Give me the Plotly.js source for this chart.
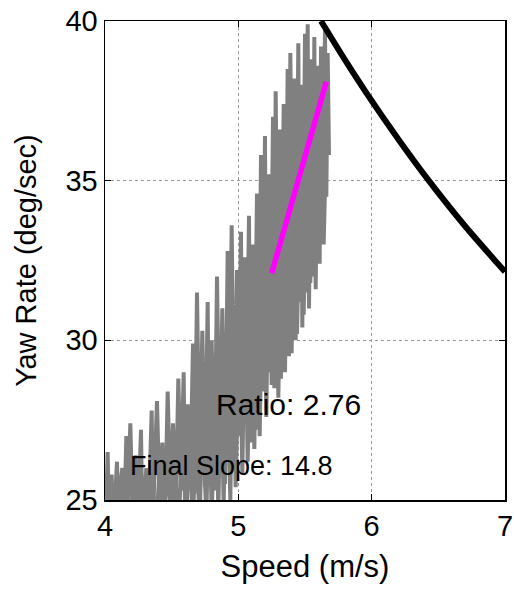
<!DOCTYPE html>
<html>
<head>
<meta charset="utf-8">
<script src="https://cdn.plot.ly/plotly-3.0.1.min.js"></script>
<style>html,body{margin:0;padding:0;background:#fff;}#chart{width:514px;height:590px;}</style>
</head>
<body>
<div id="chart"></div>
<script>
var speedData = [
4.00,4.02,4.03,4.05,4.06,4.09,4.10,4.12,4.14,4.16,4.17,4.19,4.21,4.23,4.25,4.27,4.28,4.31,4.33,4.35,
4.36,4.39,4.41,4.43,4.45,4.47,4.49,4.51,4.53,4.55,4.57,4.59,4.60,4.62,4.64,4.66,4.67,4.69,4.71,4.73,
4.75,4.77,4.78,4.80,4.82,4.84,4.86,4.88,4.90,4.92,4.93,4.95,4.97,4.99,5.00,5.02,5.03,5.05,5.06,5.08,
5.09,5.11,5.12,5.14,5.15,5.17,5.18,5.20,5.21,5.23,5.24,5.26,5.27,5.28,5.30,5.31,5.32,5.34,5.35,5.37,
5.38,5.39,5.41,5.42,5.43,5.45,5.46,5.47,5.48,5.50,5.51,5.52,5.53,5.55,5.56,5.57,5.58,5.60,5.61,5.62,
5.63,5.65,5.66,5.67,5.68,
5.66,5.64,5.62,5.59,5.57,5.54,5.52,5.49,5.47,5.44,5.42,5.40,5.37,5.35,5.33,5.30,5.28,5.25,5.23,5.21,
5.19,5.16,5.14,5.12,5.10,5.07,5.05,5.03,5.01,4.98,4.96,4.94,4.91,4.89,4.87,4.85,4.83,4.80,4.78,4.76,
4.73,4.71,4.68,4.66,4.63,4.61,4.58,4.55,4.52,4.50,4.47,4.44,4.41,4.38,4.35,4.32,4.29,4.26,4.22,4.18,
4.13,4.08,4.04,4.01
];
var yawData = [
23.5,26.5,24.2,25.8,23.8,26.2,24.5,25.5,23.6,27.0,24.8,27.4,24.0,26.4,24.6,27.2,24.2,26.0,24.9,27.8,
24.4,28.1,24.8,26.8,24.3,28.4,25.0,27.4,24.6,28.8,25.3,29.0,24.8,28.0,25.6,29.9,25.2,31.5,25.8,30.3,
25.4,31.2,26.0,30.0,25.3,32.0,26.2,31.0,25.5,32.8,26.5,33.6,26.0,32.2,27.0,33.4,26.3,32.6,27.4,33.9,
26.8,33.0,28.0,34.6,27.2,35.8,28.4,36.4,27.8,35.2,29.0,37.0,28.5,37.8,29.6,36.6,28.8,37.4,30.2,38.5,
29.5,39.0,30.6,38.2,30.0,39.3,31.2,38.0,30.4,39.6,31.5,39.9,31.0,38.8,32.0,39.5,31.6,38.6,32.4,39.2,
33.5,39.7,34.5,39.0,35.8,
36.5,33.0,37.8,32.8,36.8,31.8,37.2,30.8,36.4,30.2,36.8,29.6,35.6,29.0,36.0,28.2,35.0,28.6,34.2,27.6,
34.8,27.0,33.0,26.6,32.4,26.2,31.6,25.8,31.0,25.4,30.6,25.0,30.0,24.8,29.4,24.6,29.0,24.5,28.6,24.4,
28.0,24.2,27.6,24.0,27.2,24.3,26.8,24.0,26.6,24.2,26.2,24.0,25.9,24.1,25.6,24.0,25.4,23.8,25.8,24.0,
26.0,24.2,25.2,24.0
];
// Final slope fit line
var fitSpeed = [5.25, 5.66];
var fitYaw = [32.1, 38.1];
// Limit curve
var limitSpeed = [5.62, 5.80, 5.96, 6.20, 6.42, 6.70, 6.94, 7.00];
var limitYaw = [40.0, 38.78, 37.75, 36.3, 35.05, 33.58, 32.43, 32.15];
// Labels
var ratioText = 'Ratio: 2.76';
var slopeText = 'Final Slope: 14.8';
var xTicks = [4, 5, 6, 7];
var yTicks = [25, 30, 35, 40];

var FONT = 'Liberation Sans, Arial, Helvetica, sans-serif';

var traces = [
  {x: speedData, y: yawData, type: 'scatter', mode: 'lines',
   line: {color: '#808080', width: 4}, hoverinfo: 'skip', showlegend: false},
  {x: fitSpeed, y: fitYaw, type: 'scatter', mode: 'lines',
   line: {color: '#ff00ff', width: 5.5}, showlegend: false},
  {x: limitSpeed, y: limitYaw, type: 'scatter', mode: 'lines',
   line: {color: '#000000', width: 6, shape: 'spline', smoothing: 0.8}, showlegend: false}
];

var axisCommon = {
  showline: true, linecolor: '#000', linewidth: 1.5, mirror: 'ticks',
  ticks: 'inside', ticklen: 6, tickwidth: 1.5, tickcolor: '#000',
  showgrid: true, gridcolor: '#9a9a9a', gridwidth: 1, griddash: 'dot',
  zeroline: false, tickfont: {family: FONT, size: 29, color: '#000'}
};

var layout = {
  width: 514, height: 590,
  margin: {l: 105, r: 9, t: 21, b: 90, pad: 0},
  paper_bgcolor: '#fff', plot_bgcolor: '#fff',
  font: {family: FONT, color: '#000'},
  showlegend: false,
  xaxis: Object.assign({}, axisCommon, {
    range: [4, 7], tickvals: xTicks, ticktext: xTicks.map(String),
    title: {text: 'Speed (m/s)', font: {family: FONT, size: 31, color: '#000'}, standoff: 14}
  }),
  yaxis: Object.assign({}, axisCommon, {
    range: [25, 40], tickvals: yTicks, ticktext: yTicks.map(String),
    title: {text: 'Yaw Rate (deg/sec)', font: {family: FONT, size: 29, color: '#000'}, standoff: 20}
  }),
  annotations: [
    {x: 4.815, y: 28.0, xref: 'x', yref: 'y', text: ratioText, showarrow: false,
     xanchor: 'left', yanchor: 'middle', font: {family: FONT, size: 30, color: '#000'}},
    {x: 4.17, y: 26.05, xref: 'x', yref: 'y', text: slopeText, showarrow: false,
     xanchor: 'left', yanchor: 'middle', font: {family: FONT, size: 27, color: '#000'}}
  ]
};

Plotly.newPlot('chart', traces, layout, {staticPlot: true, displayModeBar: false});
</script>
</body>
</html>
